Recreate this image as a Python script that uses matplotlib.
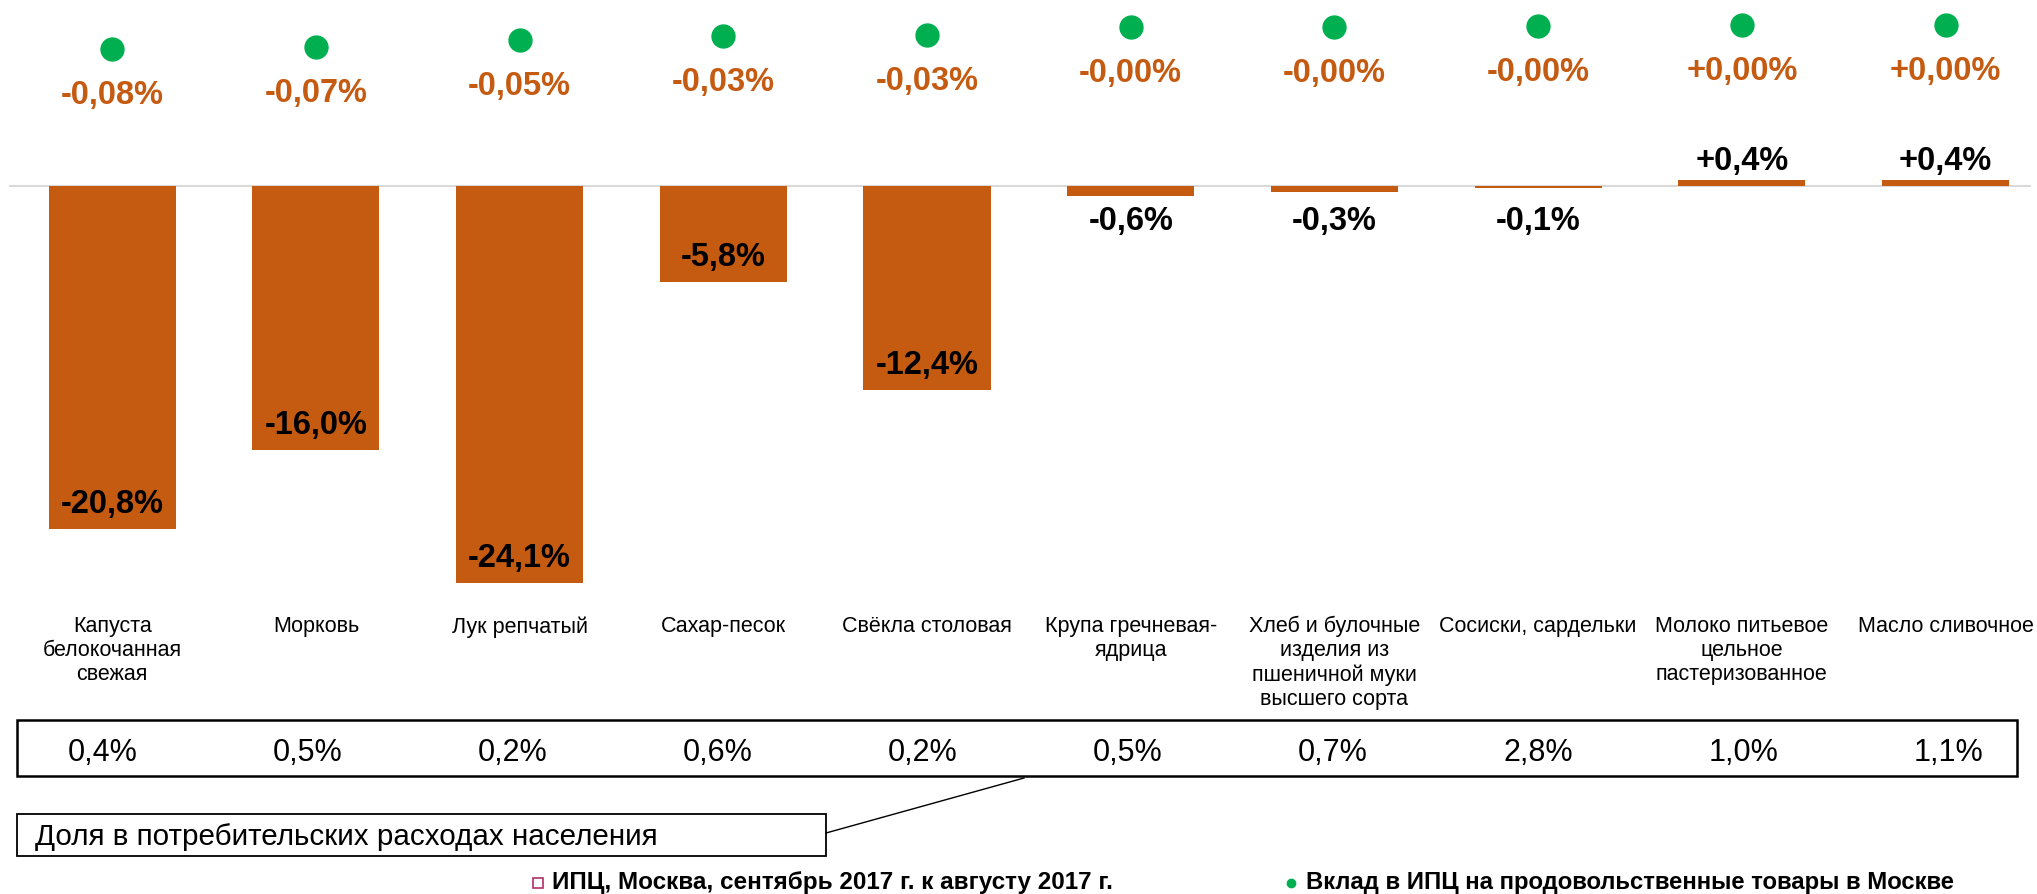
import matplotlib
matplotlib.use('Agg')
import matplotlib.pyplot as plt
from matplotlib.patches import Rectangle
from matplotlib.lines import Line2D

plt.rcParams['font.family'] = ['Liberation Sans', 'DejaVu Sans']

categories = [
    'Капуста\nбелокочанная\nсвежая',
    'Морковь',
    'Лук репчатый',
    'Сахар-песок',
    'Свёкла столовая',
    'Крупа гречневая-\nядрица',
    'Хлеб и булочные\nизделия из\nпшеничной муки\nвысшего сорта',
    'Сосиски, сардельки',
    'Молоко питьевое\nцельное\nпастеризованное',
    'Масло сливочное',
]
cpi_change = [-20.8, -16.0, -24.1, -5.8, -12.4, -0.6, -0.34, -0.1, 0.4, 0.4]
contribution = [-0.080, -0.074, -0.048, -0.034, -0.031, -0.004, -0.004, -0.001, 0.004, 0.004]
share = [0.4, 0.5, 0.2, 0.6, 0.2, 0.5, 0.7, 2.8, 1.0, 1.1]
share_title = 'Доля в потребительских расходах населения'
legend_bar = 'ИПЦ, Москва, сентябрь 2017 г. к августу 2017 г.'
legend_dot = 'Вклад в ИПЦ на продовольственные товары в Москве'

ORANGE = '#C55A11'
GREEN = '#00B050'

W, H = 2037, 895
PT = 0.72  # points per pixel at dpi 100


def fx(px):
    return px / W


def fy(py):
    return 1 - py / H


fig = plt.figure(figsize=(W / 100, H / 100), dpi=100)
ax = fig.add_axes([0, 0, 1, 1])
ax.set_xlim(-0.551, 9.449)
zero_px, px_per_pct = 187.3, 16.46
ax.set_ylim(-(H - zero_px) / px_per_pct, zero_px / px_per_pct)
ax.axis('off')

x = list(range(len(categories)))
ax.bar(x, cpi_change, width=0.624, color=ORANGE, zorder=2)
ax.axhline(0, xmin=0.005, xmax=0.9966, color='#D9D9D9', lw=1.5, zorder=1)

for i, v in enumerate(cpi_change):
    txt = f"{v:+.1f}%".replace('.', ',')
    if abs(v) > 2:
        anchor, off = v, (17 if v < 0 else -17)
    else:
        anchor, off = 0, (-43 if v < 0 else 17)
    ax.annotate(txt, (i, anchor), xytext=(0, off * PT), textcoords='offset points',
                ha='center', va='baseline', fontsize=23.5, fontweight='bold',
                color='black', zorder=3)

# contribution dots (secondary scale)
ax2 = ax.twinx()
ax2.set_position([0, 0, 1, 1])
dot_zero, px_per_unit = 27.0, 284.0
ax2.set_ylim(-(H - dot_zero) / px_per_unit, dot_zero / px_per_unit)
ax2.axis('off')
ax2.plot(x, contribution, 'o', ms=16.5, color=GREEN, ls='none', zorder=3)
for i, c in enumerate(contribution):
    txt = f"{c:+.2f}%".replace('.', ',')
    ax2.annotate(txt, (i, c), xytext=(0, -54 * PT), textcoords='offset points',
                 ha='center', va='baseline', fontsize=23.5, fontweight='bold',
                 color=ORANGE)

# category labels
xt = ax.get_xaxis_transform()
for i, lab in enumerate(categories):
    ax.text(i, fy(616), lab, transform=xt, ha='center', va='top',
            fontsize=15.5, linespacing=1.2, color='black')

# share box
fig.add_artist(Rectangle((fx(17), fy(777)), fx(2000), 56 / H,
                         transform=fig.transFigure, fill=False,
                         ec='black', lw=1.8))
for i, s in enumerate(share):
    ax.annotate(f"{s:.1f}%".replace('.', ','), (i, fy(753)), xycoords=xt,
                xytext=((-10 + 1.44 * i) * PT, 0), textcoords='offset points',
                ha='center', va='center', fontsize=22, color='black')

# callout
fig.add_artist(Rectangle((fx(17), fy(857)), fx(809), 42 / H,
                         transform=fig.transFigure, fill=False,
                         ec='black', lw=1.3))
fig.text(fx(35), fy(837), share_title, ha='left', va='center', fontsize=21.3)
fig.add_artist(Line2D([fx(826), fx(1024)], [fy(834), fy(779)],
                      transform=fig.transFigure, color='black', lw=1.0))

# legend
fig.add_artist(Line2D([fx(538)], [fy(884)], transform=fig.transFigure,
                      marker='s', ms=7, mfc='white', mec='#B0306A', mew=1.2))
fig.text(fx(552), fy(889), legend_bar, ha='left', va='baseline',
         fontsize=17.5, fontweight='bold')
fig.add_artist(Line2D([fx(1291)], [fy(884)], transform=fig.transFigure,
                      marker='o', ms=6, color=GREEN, ls='none'))
fig.text(fx(1306), fy(889), legend_dot, ha='left', va='baseline',
         fontsize=17.2, fontweight='bold')

fig.savefig('out.png', dpi=100)
